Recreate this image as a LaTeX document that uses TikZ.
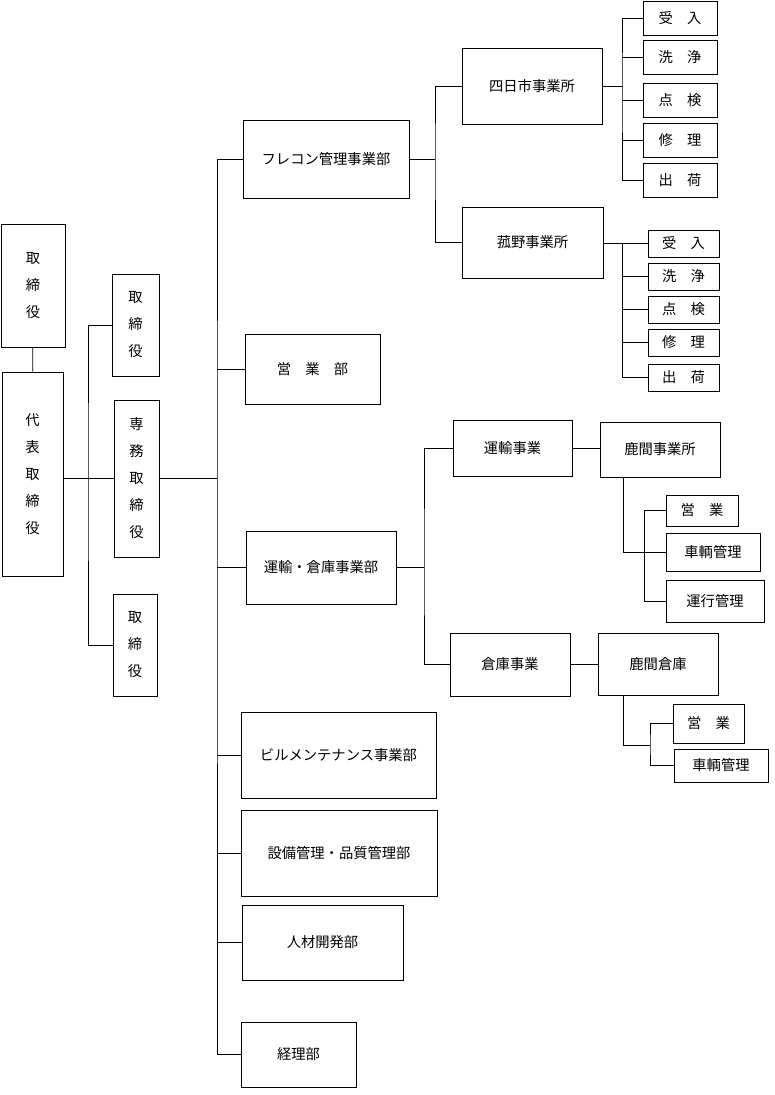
\documentclass[tikz,border=0pt]{standalone}
\usepackage{fontspec}
\setmainfont{Noto Sans CJK JP}
\usepackage{tikz}

\begin{document}
\begin{tikzpicture}[x=1pt,y=-1pt,
    box/.style={draw, line width=1pt, inner sep=0pt, align=center,
      font=\fontsize{14.3}{27}\selectfont},
    link/.style={line width=0.8pt}]
\useasboundingbox (0,0) rectangle (775,1095);
% board
\node[box, minimum width=64, minimum height=123] (tor1) at (33,285.5) {取\\締\\役};
\node[box, minimum width=61, minimum height=204] (daihyo) at (32.5,474) {代\\表\\取\\締\\役};
\node[box, minimum width=47, minimum height=102] (tor2) at (135.5,325) {取\\締\\役};
\node[box, minimum width=45, minimum height=157] (senmu) at (136.5,478.5) {専\\務\\取\\締\\役};
\node[box, minimum width=44, minimum height=102] (tor3) at (135,645) {取\\締\\役};
\coordinate (lj) at (88,478.5);
\coordinate (trunk) at (217,478.5);
\draw[link] (tor1) -- (daihyo);
\draw[link] (senmu.west -| daihyo.east) -- (senmu.west);
\draw[link] (tor2.west) -| (lj) |- (tor3.west);
\draw[link] (senmu.east) -- (trunk);
% departments
\node[box, minimum width=166, minimum height=78] (flecon) at (326,159) {フレコン管理事業部};
\node[box, minimum width=135, minimum height=70] (eigyo) at (312.5,369) {営　業　部};
\node[box, minimum width=150, minimum height=73] (unso) at (321,567.5) {運輸・倉庫事業部};
\node[box, minimum width=195, minimum height=86] (biru) at (338.5,755) {ビルメンテナンス事業部};
\node[box, minimum width=196, minimum height=86] (setsubi) at (339,853) {設備管理・品質管理部};
\node[box, minimum width=161, minimum height=75] (jinzai) at (322.5,942.5) {人材開発部};
\node[box, minimum width=115, minimum height=65] (keiri) at (298.5,1054.5) {経理部};
\draw[link] (flecon.west) -| (trunk) |- (keiri.west);
\draw[link] (eigyo.west) -- (eigyo.west -| trunk);
\draw[link] (unso.west) -- (unso.west -| trunk);
\draw[link] (biru.west) -- (biru.west -| trunk);
\draw[link] (setsubi.west) -- (setsubi.west -| trunk);
\draw[link] (jinzai.west) -- (jinzai.west -| trunk);
% flecon offices
\node[box, minimum width=140, minimum height=76] (yokka) at (532,86) {四日市事業所};
\node[box, minimum width=141, minimum height=71] (komo) at (532.5,242.5) {菰野事業所};
\coordinate (fj) at (435,159);
\draw[link] (flecon.east) -- (fj);
\draw[link] (yokka.west) -| (fj) |- (komo.west);
% yokkaichi sections
\node[box, minimum width=74, minimum height=34] (ya) at (680,18) {受　入};
\node[box, minimum width=74, minimum height=34] (yb) at (680,57) {洗　浄};
\node[box, minimum width=74, minimum height=34] (yc) at (680,100) {点　検};
\node[box, minimum width=74, minimum height=34] (yd) at (680,140) {修　理};
\node[box, minimum width=74, minimum height=34] (ye) at (680,180) {出　荷};
\coordinate (yj) at (622,86);
\draw[link] (yokka.east) -- (yj);
\draw[link] (ya.west) -| (yj) |- (ye.west);
\draw[link] (yb.west) -- (yb.west -| yj);
\draw[link] (yc.west) -- (yc.west -| yj);
\draw[link] (yd.west) -- (yd.west -| yj);
% komono sections
\node[box, minimum width=71, minimum height=27] (ka) at (683.5,243.5) {受　入};
\node[box, minimum width=71, minimum height=27] (kb) at (683.5,276.5) {洗　浄};
\node[box, minimum width=71, minimum height=27] (kc) at (683.5,309.5) {点　検};
\node[box, minimum width=71, minimum height=27] (kd) at (683.5,342.5) {修　理};
\node[box, minimum width=71, minimum height=27] (ke) at (683.5,377.5) {出　荷};
\coordinate (kj) at (622,0);
\draw[link] (ka.west -| komo.east) -- (ka.west);
\draw[link] (ka.west -| kj) |- (ke.west);
\draw[link] (kb.west) -- (kb.west -| kj);
\draw[link] (kc.west) -- (kc.west -| kj);
\draw[link] (kd.west) -- (kd.west -| kj);
% transport and warehouse
\node[box, minimum width=119, minimum height=56] (yuso) at (512.5,448) {運輸事業};
\node[box, minimum width=120, minimum height=63] (soko) at (510,664.5) {倉庫事業};
\coordinate (uj) at (424,567.5);
\draw[link] (unso.east) -- (uj);
\draw[link] (yuso.west) -| (uj) |- (soko.west);
\node[box, minimum width=120, minimum height=55] (shikama) at (660,449.5) {鹿間事業所};
\draw[link] (yuso.east) -- (yuso.east -| shikama.west);
\node[box, minimum width=72, minimum height=31] (sa) at (702,510.5) {営　業};
\node[box, minimum width=94, minimum height=38] (sb) at (713,552) {車輌管理};
\node[box, minimum width=98, minimum height=42] (sc) at (715,601) {運行管理};
\coordinate (sx) at (623,0);
\coordinate (sx2) at (644,0);
\draw[link] (shikama.south -| sx) |- (sb.west);
\draw[link] (sa.west) -- (sa.west -| sx2) -- (sc.west -| sx2) -- (sc.west);
\node[box, minimum width=120, minimum height=62] (skso) at (658,664) {鹿間倉庫};
\draw[link] (soko.east) -- (soko.east -| skso.west);
\node[box, minimum width=71, minimum height=39] (wa) at (708.5,723.5) {営　業};
\node[box, minimum width=94, minimum height=33] (wb) at (721,765.5) {車輌管理};
\coordinate (wx) at (623,745);
\coordinate (wj) at (650,745);
\draw[link] (skso.south -| wx) -- (wx) -- (wj);
\draw[link] (wa.west) -| (wj) |- (wb.west);
\end{tikzpicture}
\end{document}
